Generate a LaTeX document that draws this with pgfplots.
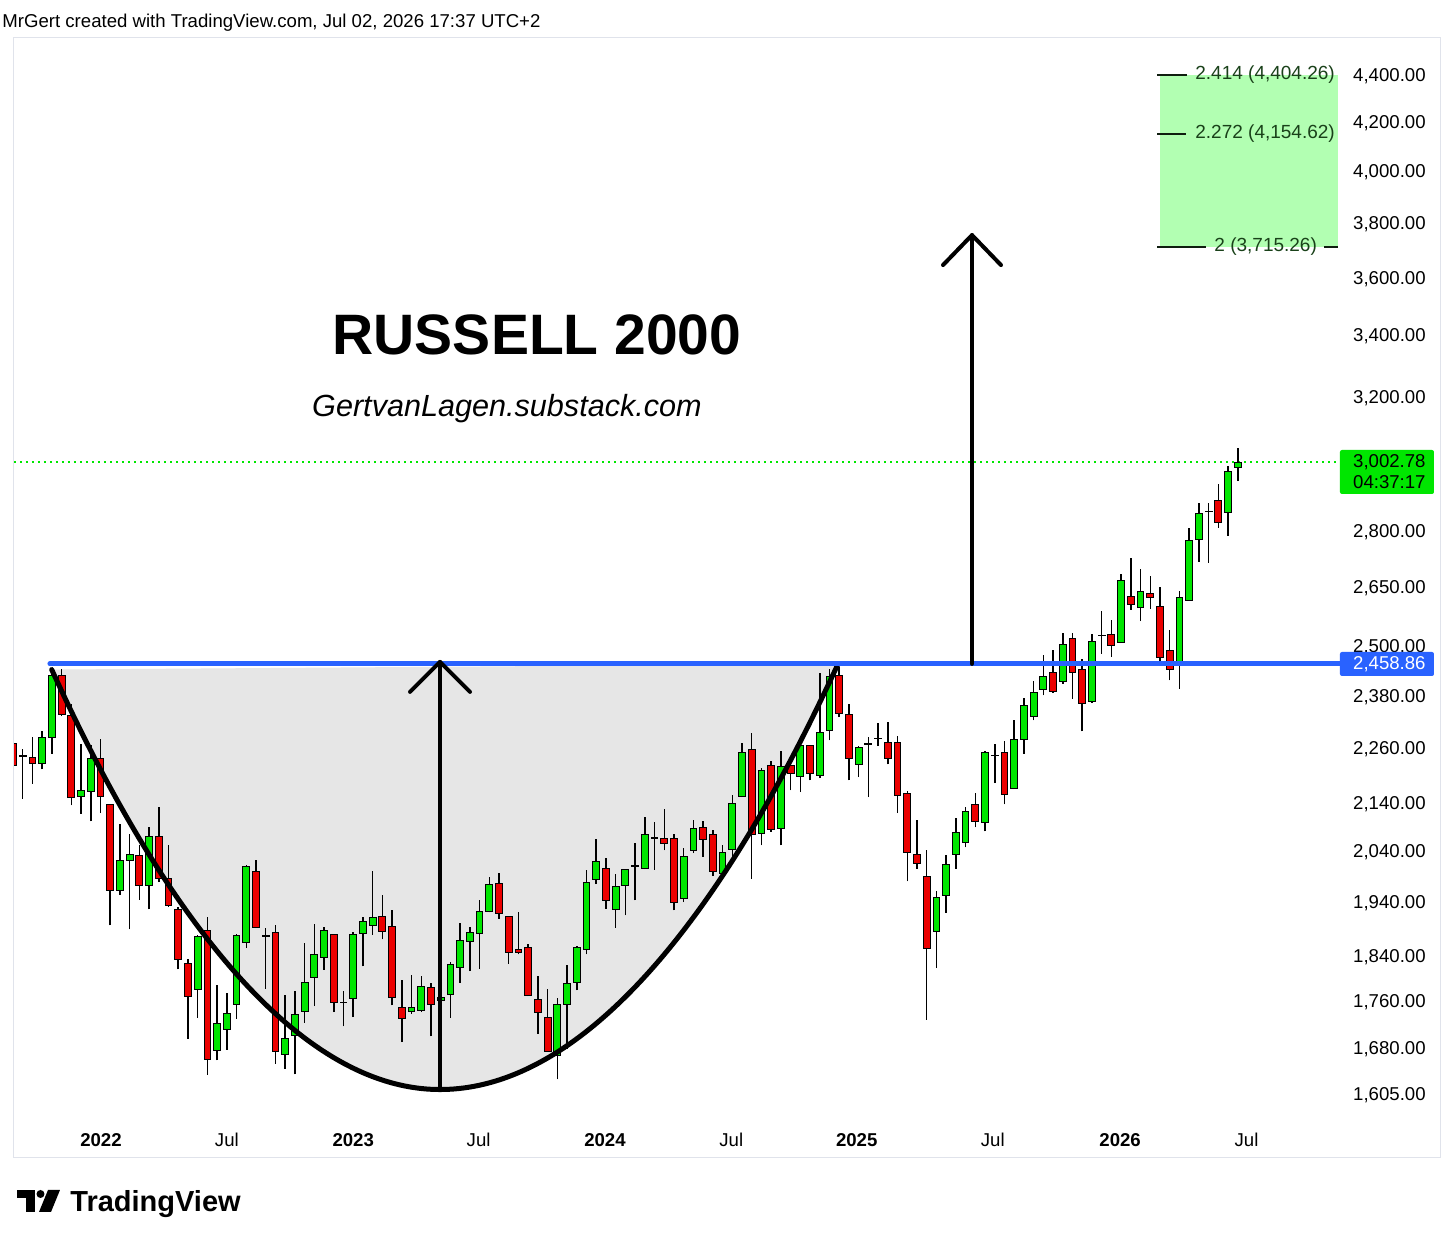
\documentclass[border=0pt]{standalone}
\usepackage{fontspec}
\setmainfont{Liberation Sans}
\usepackage{pgfplots}
\usepackage{pgfplotstable}
\pgfplotsset{compat=1.18}
\definecolor{tvgreen}{RGB}{0,230,0}
\definecolor{tvred}{RGB}{235,0,0}
\definecolor{tvblue}{RGB}{41,98,255}
\definecolor{cupgrey}{RGB}{230,230,230}
\definecolor{fibfill}{RGB}{178,255,178}
\definecolor{fibtext}{RGB}{25,65,25}
\definecolor{fibline}{RGB}{15,30,15}
\definecolor{tvframe}{RGB}{224,227,235}
\newcommand\lbl{\fontsize{9.3bp}{11bp}\selectfont}

\pgfplotstableread{
i o h l c
0 2272 2280 2220 2224
1 2246 2259.5 2151.6 2244
2 2241.6 2287.1 2183.8 2227.5
3 2227.5 2300.8 2215.2 2285.5
4 2285.5 2443.3 2249.7 2429.6
5 2431.2 2446.5 2335 2338.2
6 2336.8 2363.8 2137.6 2153.7
7 2155.9 2272.1 2119.9 2168.7
8 2167.4 2269.1 2104.0 2238.5
9 2240.1 2283.2 2121.4 2157.4
10 2138.9 2140 1898.3 1964.3
11 1964.3 2099.1 1956.6 2023.6
12 2025.0 2078.4 1890.8 2035.7
13 2034.5 2055.3 1947.7 1974.9
14 1974.9 2092.2 1928.6 2073.0
15 2073.0 2133.4 1981.4 1989.2
16 1987.8 2055.9 1934 1936.3
17 1927.8 1933.0 1817.4 1835.4
18 1828.2 1835.4 1696.7 1770.0
19 1781.7 1880.2 1732.4 1877.8
20 1888.2 1914.0 1637.4 1662.6
21 1677.3 1788.8 1660.9 1722.1
22 1711.8 1775.2 1678.3 1739.3
23 1754.8 1882.6 1730.7 1879.6
24 1867.2 2015 1856.1 2013.0
25 2001.1 2024.4 1893 1895.1
26 1879 1893.2 1782.8 1877
27 1884.5 1899.4 1655.3 1675.7
28 1671.3 1771.2 1647.1 1696.7
29 1702.4 1778.2 1638.1 1737.5
30 1743.4 1865.9 1723.8 1794.7
31 1803.6 1901.3 1752.5 1843.8
32 1838.3 1895.1 1816.7 1888.2
33 1880.8 1882 1742.2 1758.3
34 1759 1778.8 1717.6 1758
35 1766.4 1885.8 1733.6 1881.5
36 1882.6 1914.0 1822.8 1905.8
37 1898.3 2002.5 1880.8 1913.4
38 1915.3 1957.4 1872.1 1887.1
39 1897.0 1926.7 1753.7 1767.7
40 1750.3 1797.8 1691.2 1730.7
41 1743.4 1806.7 1739.3 1749.6
42 1745.2 1804.9 1742.2 1786.3
43 1784.5 1793.0 1700.7 1755.5
44 1763 1777 1750.8 1768
45 1773.0 1830.6 1732.4 1825.7
46 1821.6 1903.2 1793.5 1870.4
47 1868.5 1895.1 1814.4 1884.5
48 1882.6 1947.7 1818.5 1925.3
49 1925.3 1991.2 1923 1976.1
50 1978.7 1999.1 1910.8 1920.2
51 1915.3 1916 1827.5 1848.8
52 1853.8 1923.5 1844.6 1847.5
53 1857.5 1864.0 1770 1771.2
54 1764.7 1805.4 1705.1 1742.2
55 1733.6 1782.8 1675 1676.3
56 1669.2 1766.4 1630.0 1756.0
57 1755.5 1825.7 1680.0 1792.9
58 1794.7 1859.8 1780.0 1857.5
59 1853.1 2004.5 1844.6 1980.8
60 1986.6 2068.2 1977.5 2021.6
61 2007.7 2029.1 1929.8 1945.9
62 1929.2 1997.7 1893.8 1973.5
63 1974.1 2006.5 1917.2 2005.1
64 2012 2059.4 1945.9 2014
65 2007.7 2113.0 2007 2077.2
66 2069 2102.6 2005.7 2070
67 2069.0 2130.4 2044.5 2057.9
68 2069.6 2078.4 1926.7 1942.6
69 1949.1 2049.8 1942.6 2031.1
70 2043.7 2107.4 2039.1 2089.9
71 2091.6 2104.7 2031.1 2066.1
72 2076.3 2085.4 1993.2 2001.1
73 1997.7 2054.7 1987.8 2041.1
74 2045.7 2158.9 2016.3 2142.5
75 2157.4 2274.3 2155 2253.5
76 2259.5 2296.2 1987.8 2077.2
77 2078.4 2218.2 2054.7 2213.1
78 2224.0 2232.9 2082 2086.3
79 2088.4 2255.7 2054.7 2221.8
80 2224.0 2238.5 2169.6 2205.6
81 2200.6 2284.8 2166.0 2268.4
82 2268.4 2270 2191.2 2205.6
83 2202.1 2436.8 2196.0 2296.9
84 2301.5 2447.3 2279.8 2428.9
85 2431.2 2451.3 2332.9 2340.6
86 2339.1 2363.8 2191.2 2240.1
87 2226.2 2266.4 2198.4 2262.6
88 2271 2287.1 2155.2 2273
89 2283 2319.1 2266.4 2284.5
90 2274.3 2321.4 2226.2 2240.1
91 2275.9 2289.4 2121.4 2158.9
92 2162.3 2167.5 1982.8 2039.7
93 2035.7 2106.1 2007.7 2019.0
94 1992.6 2044.5 1729.0 1856.1
95 1887.1 1963.3 1819.7 1952.2
96 1955.4 2035.7 1922.2 2016.3
97 2036.4 2110.9 2007.7 2080.5
98 2061.4 2134.1 2050.6 2125.6
99 2138.9 2164.5 2091.6 2104.0
100 2100.8 2255.8 2083.3 2251.3
101 2245 2270.7 2185.3 2246.5
102 2251.3 2278.2 2139.7 2161.0
103 2173.0 2325.3 2172 2281.1
104 2282.1 2377.2 2249.7 2360.0
105 2334.4 2417.6 2325.3 2389.7
106 2397.9 2481.3 2383.3 2428.9
107 2436.8 2493.9 2390 2391.4
108 2415.2 2536.0 2411.1 2507.1
109 2521.0 2536.0 2375.6 2436.8
110 2444.8 2471.6 2300.1 2365.4
111 2367.8 2533.5 2366 2514.6
112 2528 2590.4 2483.8 2529.5
113 2532.0 2567.4 2475.8 2502.8
114 2511.0 2687.0 2510 2671.1
115 2629.1 2730.7 2594.5 2607.4
116 2598.9 2702.2 2564.9 2640.3
117 2635.8 2682.4 2597.1 2625.4
118 2602.2 2653.5 2463.5 2474.1
119 2492.2 2542.1 2419.3 2444.8
120 2461.0 2642.1 2399.3 2624.7
121 2618.7 2813.0 2617 2779.0
122 2781.7 2883.5 2719.9 2853.2
123 2859 2883.5 2718.0 2860.5
124 2891.3 2939.1 2813.8 2827.8
125 2856.0 2990.3 2790.7 2973.4
126 2987.3 3043.2 2946.2 3002.78
}\candles

\begin{document}
\begin{tikzpicture}
\fill[white] (0,0) rectangle (728bp,-622.5bp);
\useasboundingbox (0,0) rectangle (728bp,-622.5bp);
\begin{axis}[
  at={(7bp,-566bp)}, anchor=south west,
  width=663bp, height=546bp, scale only axis,
  xmin=0.103, xmax=136.52, ymin=1547.3, ymax=4559.6, ymode=log,
  axis line style={draw=none},
  major tick length=0pt, tick style={draw=none},
  minor xtick={}, minor ytick={},
  xtick={9.05,22.0,35.0,47.9,60.9,73.9,86.8,100.8,113.9,126.9},
  xticklabels={\textbf{2022},Jul,\textbf{2023},Jul,\textbf{2024},Jul,\textbf{2025},Jul,\textbf{2026},Jul},
  ytick={1605,1680,1760,1840,1940,2040,2140,2260,2380,2500,2650,2800,3000,3200,3400,3600,3800,4000,4200,4400},
  yticklabels={{1,605.00},{1,680.00},{1,760.00},{1,840.00},{1,940.00},{2,040.00},{2,140.00},{2,260.00},{2,380.00},{2,500.00},{2,650.00},{2,800.00},{3,000.00},{3,200.00},{3,400.00},{3,600.00},{3,800.00},{4,000.00},{4,200.00},{4,400.00}},
  yticklabel pos=right,
  tick label style={font=\lbl, text=black, inner sep=0pt},
  xticklabel style={anchor=base, yshift=-7.5bp},
  yticklabel style={anchor=east, xshift=43bp},
  clip=true,
]
% cup area
\fill[cupgrey] (axis cs:3.98,2445) parabola bend (axis cs:43.93,1613.6) (axis cs:84.88,2458.7) -- cycle;
% fib target zone
\fill[fibfill] (axis cs:118.0,3715.26) rectangle (axis cs:136.32,4404.26);
% last price line
\addplot[forget plot, tvgreen, line width=0.75bp, dash pattern=on 0.9bp off 2.1bp] coordinates {(0.103,3002.78) (136.52,3002.78)};
% candles
\pgfplotstablegetrowsof{\candles}
\pgfmathtruncatemacro\lastrow{\pgfplotsretval-1}
\pgfplotsforeachungrouped \r in {0,...,\lastrow}{%
  \pgfplotstablegetelem{\r}{i}\of\candles \let\ci\pgfplotsretval
  \pgfplotstablegetelem{\r}{o}\of\candles \let\co\pgfplotsretval
  \pgfplotstablegetelem{\r}{h}\of\candles \let\chh\pgfplotsretval
  \pgfplotstablegetelem{\r}{l}\of\candles \let\cl\pgfplotsretval
  \pgfplotstablegetelem{\r}{c}\of\candles \let\cc\pgfplotsretval
  \pgfmathsetmacro\xl{\ci-0.35}%
  \pgfmathsetmacro\xr{\ci+0.35}%
  \pgfmathtruncatemacro\isup{\cc>=\co}%
  \ifnum\isup=1 \def\bc{tvgreen}\else\def\bc{tvred}\fi
  \edef\doplot{%
    \noexpand\addplot[forget plot, draw=black, line width=0.75bp] coordinates {(\ci,\cl) (\ci,\chh)};
    \noexpand\addplot[forget plot, draw=black, fill=\bc, line width=0.5bp] coordinates {(\xl,\co) (\xr,\co) (\xr,\cc) (\xl,\cc)} -- cycle;
  }\doplot
}
% cup arc
\draw[black, line width=2.5bp, line cap=round] (axis cs:3.98,2445) parabola bend (axis cs:43.93,1613.6) (axis cs:84.88,2458.7);
% neckline
\draw[tvblue, line width=2.5bp, line cap=round] (axis cs:3.8,2458.86) -- (axis cs:137,2458.86);
% arrows
\draw[black, line width=2bp, line cap=round, line join=round] (axis cs:43.93,1613.6) -- (axis cs:43.93,2463.6);
\draw[black, line width=2bp, line cap=round, line join=round] ([xshift=-15bp,yshift=-15bp]axis cs:43.93,2463.6) -- (axis cs:43.93,2463.6) -- ([xshift=15bp,yshift=-15bp]axis cs:43.93,2463.6);
\draw[black, line width=2bp, line cap=round, line join=round] (axis cs:98.66,2458.86) -- (axis cs:98.66,3759.4);
\draw[black, line width=2bp, line cap=round, line join=round] ([xshift=-14.5bp,yshift=-15bp]axis cs:98.66,3759.4) -- (axis cs:98.66,3759.4) -- ([xshift=14.5bp,yshift=-15bp]axis cs:98.66,3759.4);
% fib levels
\draw[fibline, line width=1.2bp] (axis cs:117.7,4404.26) -- (axis cs:120.8,4404.26);
\draw[fibline, line width=1.2bp] (axis cs:117.7,4154.62) -- (axis cs:120.7,4154.62);
\draw[fibline, line width=1.2bp] (axis cs:117.7,3715.26) -- (axis cs:122.7,3715.26);
\draw[fibline, line width=1.2bp] (axis cs:134.9,3715.26) -- (axis cs:136.32,3715.26);
\node[anchor=west, inner sep=0pt, text=fibtext, font=\fontsize{9.5bp}{11bp}\selectfont] at (axis cs:121.6,4404.26) {2.414 (4,404.26)};
\node[anchor=west, inner sep=0pt, text=fibtext, font=\fontsize{9.5bp}{11bp}\selectfont] at (axis cs:121.6,4154.62) {2.272 (4,154.62)};
\node[anchor=west, inner sep=0pt, text=fibtext, font=\fontsize{9.5bp}{11bp}\selectfont] at (axis cs:123.56,3715.26) {2 (3,715.26)};
\end{axis}
\begin{scope}[x=0.5bp,y=-0.5bp]
\draw[tvframe, line width=0.5bp] (14,38) rectangle (1441,1158);
\fill[tvgreen, rounded corners=1bp] (1340,450) rectangle (1434,494);
\node[anchor=east, inner sep=0pt, font=\lbl] at (1426,462) {3,002.78};
\node[anchor=east, inner sep=0pt, font=\lbl] at (1426,482) {04:37:17};
\fill[tvblue, rounded corners=1bp] (1340,652) rectangle (1434,676);
\node[anchor=east, inner sep=0pt, font=\lbl, text=white] at (1426,664) {2,458.86};
\node[anchor=base west, inner sep=0pt, font=\fontsize{9.3bp}{11bp}\selectfont] at (2,27) {MrGert created with TradingView.com, Jul 02, 2026 17:37 UTC+2};
\node[anchor=base, inner sep=0pt, font=\fontsize{28.5bp}{30bp}\selectfont\bfseries] at (537,355) {RUSSELL 2000};
\node[anchor=base, inner sep=0pt, font=\fontsize{15.3bp}{18bp}\selectfont\itshape] at (507,417) {GertvanLagen.substack.com};
% TradingView logo
\fill[black] (17,1190) rectangle (35,1198);
\fill[black] (26,1190) rectangle (35,1212);
\fill[black] (40.5,1194) circle (4);
\fill[black] (48,1190) -- (60,1190) -- (51,1212) -- (39,1212) -- cycle;
\node[anchor=base west, inner sep=0pt, font=\fontsize{14.5bp}{17bp}\selectfont\bfseries] at (70,1212) {TradingView};
\end{scope}
\end{tikzpicture}
\end{document}
